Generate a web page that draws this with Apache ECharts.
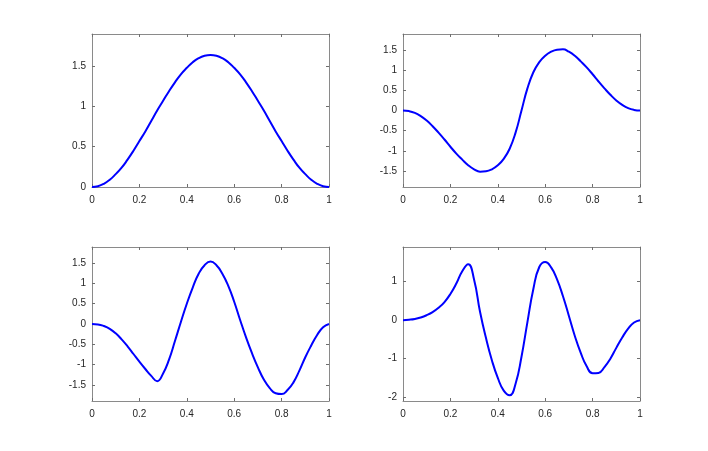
<!DOCTYPE html>
<html>
<head>
<meta charset="utf-8">
<script src="https://cdn.jsdelivr.net/npm/echarts@6/dist/echarts.min.js"></script>
<style>
html,body{margin:0;padding:0;background:#fff;}
#chart{width:708px;height:451px;}
</style>
</head>
<body>
<div id="chart"></div>
<script>
// Shared x sample positions
const xs = [0,0.025,0.05,0.075,0.1,0.125,0.15,0.175,0.2,0.225,0.25,0.275,0.3,0.325,0.35,0.375,0.4,0.425,0.45,0.475,0.5,
            0.525,0.55,0.575,0.6,0.625,0.65,0.675,0.7,0.725,0.75,0.775,0.8,0.825,0.85,0.875,0.9,0.925,0.95,0.975,1];

// Series values
const y1 = [0,0.01,0.04,0.09,0.16,0.24,0.34,0.45,0.57,0.69,0.82,0.95,1.07,1.19,1.30,1.40,1.48,1.55,1.60,1.63,1.64,
            1.63,1.60,1.55,1.48,1.40,1.30,1.19,1.07,0.95,0.82,0.69,0.57,0.45,0.34,0.24,0.16,0.09,0.04,0.01,0];
const y2 = [0,-0.015,-0.06,-0.14,-0.25,-0.39,-0.55,-0.72,-0.90,-1.07,-1.22,-1.36,-1.46,-1.52,-1.51,-1.46,-1.36,-1.20,-0.95,-0.55,0,
            0.55,0.95,1.20,1.36,1.46,1.51,1.52,1.46,1.36,1.22,1.07,0.90,0.72,0.55,0.39,0.25,0.14,0.06,0.015,0];
const y3 = [0,-0.01,-0.05,-0.12,-0.23,-0.38,-0.55,-0.74,-0.93,-1.11,-1.28,-1.41,-1.22,-0.88,-0.42,0.05,0.50,0.90,1.24,1.45,1.54,
            1.45,1.24,0.94,0.55,0.10,-0.33,-0.72,-1.07,-1.37,-1.58,-1.71,-1.73,-1.63,-1.44,-1.15,-0.82,-0.53,-0.27,-0.08,0];
const y4 = [0,0.01,0.03,0.07,0.13,0.21,0.32,0.47,0.68,0.95,1.27,1.45,1.05,0.22,-0.46,-1.04,-1.50,-1.83,-1.95,-1.65,-0.95,
            -0.05,0.81,1.38,1.51,1.37,1.06,0.62,0.11,-0.41,-0.85,-1.20,-1.38,-1.37,-1.22,-1.00,-0.72,-0.45,-0.22,-0.06,0];

// Tick values
const xTicks = [0,0.2,0.4,0.6,0.8,1];
const yTicks1 = [0,0.5,1,1.5];
const yTicks2 = [-1.5,-1,-0.5,0,0.5,1,1.5];
const yTicks3 = [-1.5,-1,-0.5,0,0.5,1,1.5];
const yTicks4 = [-2,-1,0,1];

// Axis ranges
const yRanges = [[0,1.9],[-1.9,1.9],[-1.9,1.9],[-2.1,1.9]];

const panels = [
  {ys:y1, yt:yTicks1, grid:{left:92, top:34, width:237, height:153}},
  {ys:y2, yt:yTicks2, grid:{left:403, top:34, width:237, height:153}},
  {ys:y3, yt:yTicks3, grid:{left:92, top:247, width:237, height:154}},
  {ys:y4, yt:yTicks4, grid:{left:403, top:247, width:237, height:154}}
];

const axisCol = '#8a8a8a';
const tickCol = '#6e6e6e';
const labelStyle = {fontFamily:'Liberation Sans', fontSize:10, color:'#262626'};
const grid=[], xAxis=[], yAxis=[], series=[];
panels.forEach((p,i)=>{
  grid.push(Object.assign({show:false, containLabel:false}, p.grid));
  ['bottom','top'].forEach((pos,k)=>{
    xAxis.push({type:'value', gridIndex:i, position:pos, min:0, max:1, show:true,
      axisLine:{show:true, onZero:false, lineStyle:{color:axisCol, width:1}},
      axisTick:{show:true, inside:true, length:3, customValues:xTicks, lineStyle:{color:tickCol}},
      axisLabel:Object.assign({show:k===0, margin:8, customValues:xTicks}, labelStyle),
      splitLine:{show:false}});
  });
  ['left','right'].forEach((pos,k)=>{
    yAxis.push({type:'value', gridIndex:i, position:pos, min:yRanges[i][0], max:yRanges[i][1], show:true,
      axisLine:{show:true, onZero:false, lineStyle:{color:axisCol, width:1}},
      axisTick:{show:true, inside:true, length:3, customValues:p.yt, lineStyle:{color:tickCol}},
      axisLabel:Object.assign({show:k===0, margin:6, customValues:p.yt}, labelStyle),
      splitLine:{show:false}});
  });
  series.push({type:'line', xAxisIndex:2*i, yAxisIndex:2*i,
    data: xs.map((x,j)=>[x,p.ys[j]]),
    smooth:true, showSymbol:false, symbol:'none',
    lineStyle:{color:'#0000ff', width:2}});
});

const chart = echarts.init(document.getElementById('chart'), null, {renderer:'canvas'});
chart.setOption({animation:false, backgroundColor:'#fff', grid, xAxis, yAxis, series});
</script>
</body>
</html>
